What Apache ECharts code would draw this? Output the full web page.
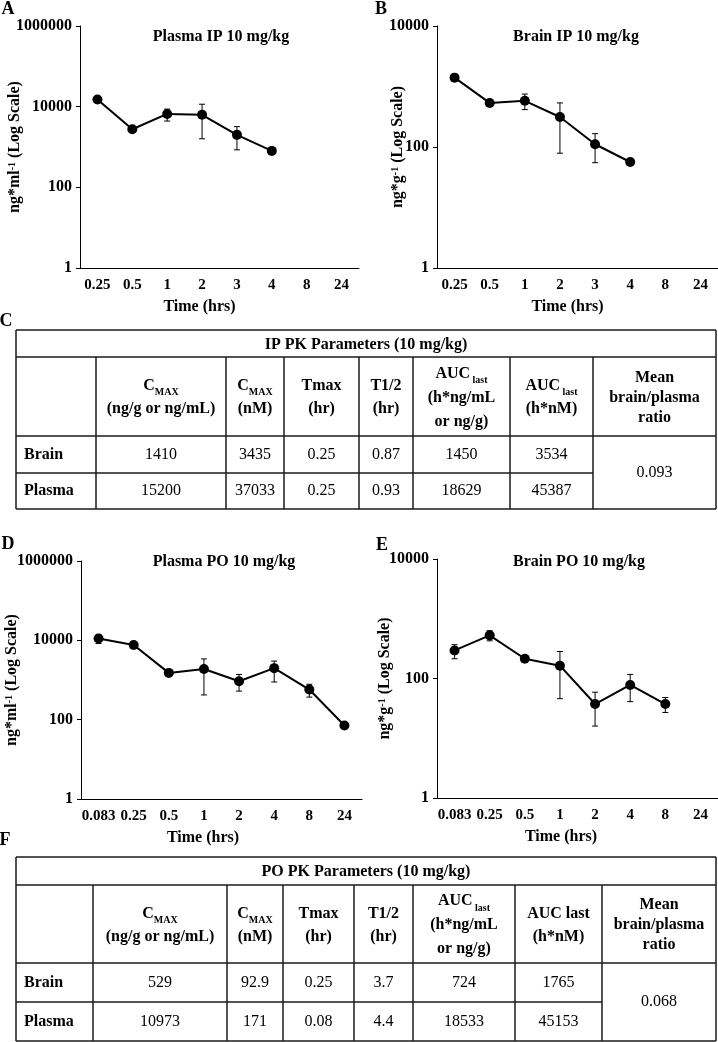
<!DOCTYPE html>
<html><head><meta charset="utf-8">
<script src="https://cdn.jsdelivr.net/npm/echarts/dist/echarts.min.js"></script>
<style>html,body{margin:0;padding:0;background:#fff}#c{width:718px;height:1042px}</style>
</head><body><div id="c"></div>
<script>
const FONT = '"Liberation Serif","Times New Roman",serif';

// ---- chart data ----
const timesIP = ['0.25','0.5','1','2','3','4','8','24'];
const timesPO = ['0.083','0.25','0.5','1','2','4','8','24'];

const plasmaIP     = [15100, 2750, 6600, 6300, 2000, 800];
const plasmaIPLow  = [14200, 2600, 4400, 1600, 850, 700];
const plasmaIPHigh = [16000, 2900, 8700, 11500, 3200, 900];

const brainIP     = [1400, 535, 580, 313, 111, 56.5];
const brainIPLow  = [1260, 505, 415, 79, 55, 53];
const brainIPHigh = [1550, 565, 750, 535, 166, 60];

const plasmaPO     = [11100, 7650, 1510, 1900, 930, 1990, 575, 71];
const plasmaPOLow  = [8300, 7000, 1420, 420, 525, 890, 370, 67];
const plasmaPOHigh = [13500, 8300, 1600, 3400, 1380, 3000, 780, 75];

const brainPO     = [295, 527, 214, 164, 37.4, 78, 37.4];
const brainPOLow  = [214, 427, 202, 46, 16, 41, 27];
const brainPOHigh = [368, 630, 226, 283, 59, 117, 48];

const chartTitles = ['Plasma IP 10 mg/kg', 'Brain IP 10 mg/kg', 'Plasma PO 10 mg/kg', 'Brain PO 10 mg/kg'];
const panelLetters = ['A','B','C','D','E','F'];

// ---- table data ----
const tableTitleIP = 'IP PK Parameters (10 mg/kg)';
const tableTitlePO = 'PO PK Parameters (10 mg/kg)';
const headersIP = ['C{s|MAX}\n(ng/g or ng/mL)', 'C{s|MAX}\n(nM)', 'Tmax\n(hr)', 'T1/2\n(hr)',
  'AUC{s| last}\n(h*ng/mL\nor ng/g)', 'AUC{s| last}\n(h*nM)', 'Mean\nbrain/plasma\nratio'];
const headersPO = ['C{s|MAX}\n(ng/g or ng/mL)', 'C{s|MAX}\n(nM)', 'Tmax\n(hr)', 'T1/2\n(hr)',
  'AUC{s| last}\n(h*ng/mL\nor ng/g)', 'AUC last\n(h*nM)', 'Mean\nbrain/plasma\nratio'];
const rowNames = ['Brain', 'Plasma'];
const ipBrain  = ['1410', '3435', '0.25', '0.87', '1450', '3534'];
const ipPlasma = ['15200', '37033', '0.25', '0.93', '18629', '45387'];
const ipRatio = '0.093';
const poBrain  = ['529', '92.9', '0.25', '3.7', '724', '1765'];
const poPlasma = ['10973', '171', '0.08', '4.4', '18533', '45153'];
const poRatio = '0.068';

// ---- layout ----
const grids = [
  {left: 80, top: 26, width: 279, height: 242},
  {left: 437, top: 26, width: 281, height: 242},
  {left: 81, top: 561, width: 281, height: 238},
  {left: 437, top: 559, width: 281, height: 239}
];

function errData(lo, hi) { return lo.map((l, i) => [i, l, hi[i]]); }
function errRender(params, api) {
  const x = api.value(0);
  const a = api.coord([x, api.value(1)]);
  const b = api.coord([x, api.value(2)]);
  const w = 3;
  const st = {stroke: '#000', lineWidth: 1};
  return {type: 'group', children: [
    {type: 'line', shape: {x1: a[0], y1: a[1], x2: b[0], y2: b[1]}, style: st},
    {type: 'line', shape: {x1: a[0]-w, y1: a[1], x2: a[0]+w, y2: a[1]}, style: st},
    {type: 'line', shape: {x1: b[0]-w, y1: b[1], x2: b[0]+w, y2: b[1]}, style: st}
  ]};
}

const yNames = ['ng*ml{sup|-1} (Log Scale)', 'ng*g{sup|-1} (Log Scale)', 'ng*ml{sup|-1} (Log Scale)', 'ng*g{sup|-1} (Log Scale)'];
const yMax = [1000000, 10000, 1000000, 10000];
const xCats = [timesIP, timesIP, timesPO, timesPO];
const namePad = [40, 20, 37, 33];
const yNameGap = [57, 31, 61, 44];

const xAxes = grids.map((g, i) => ({
  type: 'category', gridIndex: i, data: xCats[i], boundaryGap: true,
  axisLine: {lineStyle: {color: '#000', width: 1}},
  axisTick: {show: false},
  axisLabel: {interval: 0, margin: 10, color: '#000', fontFamily: FONT, fontWeight: 'bold', fontSize: 15},
  splitLine: {show: false},
  name: 'Time (hrs)', nameLocation: 'middle', nameGap: 31, nameMoveOverlap: false,
  nameTextStyle: {color: '#000', fontFamily: FONT, fontWeight: 'bold', fontSize: 16, padding: [0, namePad[i], 0, 0]}
}));

const yAxes = grids.map((g, i) => ({
  type: 'log', logBase: 100, gridIndex: i, min: 1, max: yMax[i],
  axisLine: {show: true, lineStyle: {color: '#000', width: 1}},
  axisTick: {show: true, inside: false, length: 4, lineStyle: {color: '#000'}},
  axisLabel: {margin: 8, color: '#000', fontFamily: FONT, fontWeight: 'bold', fontSize: 16,
    formatter: v => String(Math.round(v))},
  splitLine: {show: false},
  name: yNames[i], nameLocation: 'middle', nameGap: yNameGap[i], nameRotate: 90, nameMoveOverlap: false,
  nameTextStyle: {color: '#000', fontFamily: FONT, fontWeight: 'bold', fontSize: 16,
    rich: {sup: {fontSize: 10, fontFamily: FONT, fontWeight: 'bold', color: '#000', verticalAlign: 'top'}}}
}));

const lineData = [plasmaIP, brainIP, plasmaPO, brainPO];
const errs = [errData(plasmaIPLow, plasmaIPHigh), errData(brainIPLow, brainIPHigh),
              errData(plasmaPOLow, plasmaPOHigh), errData(brainPOLow, brainPOHigh)];
const series = [];
grids.forEach((g, i) => {
  series.push({type: 'custom', xAxisIndex: i, yAxisIndex: i, data: errs[i], renderItem: errRender,
    encode: {x: 0, y: [1, 2]}, z: 3, silent: true});
  series.push({type: 'line', xAxisIndex: i, yAxisIndex: i, data: lineData[i], symbol: 'circle', symbolSize: 10,
    itemStyle: {color: '#000'}, lineStyle: {color: '#000', width: 2}, z: 2, silent: true, animation: false});
});

// ---- graphic: letters, titles, tables ----
const graphic = [];
function txt(x, y, text, opt) {
  graphic.push({type: 'text', x: x, y: y, silent: true, style: Object.assign({
    text: text, fill: '#000', font: 'bold 16px ' + FONT, align: 'center', verticalAlign: 'middle'}, opt || {})});
}
const letterPos = [[8, 9], [381, 9], [6, 321], [8, 544], [382, 545], [5, 840]];
panelLetters.forEach((l, i) => txt(letterPos[i][0], letterPos[i][1], l, {font: 'bold 18px ' + FONT}));
const titlePos = [[221, 37], [576, 37], [224, 562], [579, 562]];
chartTitles.forEach((t, i) => txt(titlePos[i][0], titlePos[i][1], t, {font: 'bold 16px ' + FONT}));

function seg(x1, y1, x2, y2) {
  graphic.push({type: 'line', silent: true, shape: {x1: x1, y1: y1, x2: x2, y2: y2},
    style: {stroke: '#1a1a1a', lineWidth: 1.5}});
}
function table(rows, cols, title, headers, brain, plasma, ratio) {
  const L = cols[0], R = cols[cols.length - 1];
  seg(L, rows[0], R, rows[0]);
  seg(L, rows[4], R, rows[4]);
  seg(L, rows[0], L, rows[4]);
  seg(R, rows[0], R, rows[4]);
  seg(L, rows[1], R, rows[1]);
  seg(L, rows[2], R, rows[2]);
  seg(L, rows[3], cols[7], rows[3]);
  for (let i = 1; i <= 7; i++) seg(cols[i], rows[1], cols[i], rows[4]);
  txt((L + R) / 2, (rows[0] + rows[1]) / 2 + 1, title, {font: 'bold 16px ' + FONT});
  const richS = {s: {font: 'bold 10px ' + FONT, fill: '#000', verticalAlign: 'bottom', lineHeight: 21}};
  headers.forEach((h, i) => {
    const lh = h.split('\n').length === 3 ? (i === 6 ? 20 : 24) : 23;
    txt((cols[i + 1] + cols[i + 2]) / 2, (rows[1] + rows[2]) / 2 + 1, h,
      {font: 'bold 16px ' + FONT, lineHeight: lh, rich: richS});
  });
  const ym = [(rows[2] + rows[3]) / 2, (rows[3] + rows[4]) / 2];
  [brain, plasma].forEach((vals, r) => {
    txt(L + 8, ym[r], rowNames[r], {font: 'bold 16px ' + FONT, align: 'left'});
    vals.forEach((v, c) => txt((cols[c + 1] + cols[c + 2]) / 2, ym[r], v, {font: '16px ' + FONT}));
  });
  txt((cols[7] + cols[8]) / 2, (rows[2] + rows[4]) / 2, ratio, {font: '16px ' + FONT});
}
table([330, 357, 436, 473, 509], [16, 96, 226, 284, 359, 413, 510, 593, 716], tableTitleIP, headersIP, ipBrain, ipPlasma, ipRatio);
table([857, 885, 963, 1002, 1041], [16, 93, 227, 283, 354, 413, 515, 602, 716], tableTitlePO, headersPO, poBrain, poPlasma, poRatio);

const chart = echarts.init(document.getElementById('c'), null, {renderer: 'canvas'});
chart.setOption({
  animation: false,
  backgroundColor: '#fff',
  grid: grids.map(g => Object.assign({containLabel: false, outerBoundsMode: 'none'}, g)),
  xAxis: xAxes,
  yAxis: yAxes,
  series: series,
  graphic: graphic
});
</script></body></html>
